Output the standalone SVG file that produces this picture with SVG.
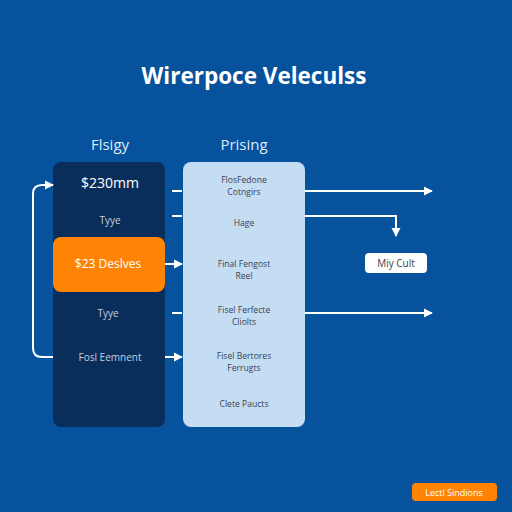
<svg xmlns="http://www.w3.org/2000/svg" width="512" height="512" viewBox="0 0 512 512">
<style>
.t{font-family:"Open Sans","Liberation Sans",sans-serif;}
.h{fill:#dfeaf6;font-size:15px;}
.w{fill:#ffffff;}
.s{fill:#c3cfdf;font-size:10px;}
.d{fill:#3a4250;font-size:8.6px;}
.ln{stroke:#ffffff;stroke-width:2;fill:none;}
</style>
<defs>
<marker id="ah" markerWidth="10" markerHeight="10" refX="8" refY="5" orient="auto" markerUnits="userSpaceOnUse">
<path d="M0,0.5 L9,5 L0,9.5 Z" fill="#ffffff"/>
</marker>
</defs>
<rect width="512" height="512" fill="#06529d"/>
<text class="t w" x="254" y="84" font-size="22.5" font-weight="bold" text-anchor="middle">Wirerpoce Veleculss</text>
<text class="t h" x="110" y="150" text-anchor="middle">Flsigy</text>
<text class="t h" x="244" y="150" text-anchor="middle">Prising</text>

<g id="left-panel">
<rect x="53" y="162" width="112" height="265" rx="8" fill="#0a2e5c"/>
<text class="t w" x="110" y="188" font-size="14" text-anchor="middle">$230mm</text>
<text class="t s" x="110" y="224" text-anchor="middle">Tyye</text>
<text class="t s" x="108" y="317" text-anchor="middle">Tyye</text>
<text class="t s" x="110" y="361" text-anchor="middle">Fosl Eemnent</text>
</g>
<g id="orange-node">
<rect x="53" y="237" width="112" height="55" rx="8" fill="#ff8406"/>
<text class="t w" x="108" y="268" font-size="12" text-anchor="middle">$23 Deslves</text>
</g>
<g id="right-panel">
<rect x="183" y="162" width="122" height="265" rx="8" fill="#c5ddf3"/>
<text class="t d" x="244" y="183" text-anchor="middle">FlosFedone</text>
<text class="t d" x="244" y="195" text-anchor="middle">Cotngirs</text>
<text class="t d" x="244" y="226" text-anchor="middle">Hage</text>
<text class="t d" x="244" y="267" text-anchor="middle">Final Fengost</text>
<text class="t d" x="244" y="279" text-anchor="middle">Reel</text>
<text class="t d" x="244" y="313" text-anchor="middle">Fisel Ferfecte</text>
<text class="t d" x="244" y="325" text-anchor="middle">Cliolts</text>
<text class="t d" x="244" y="359" text-anchor="middle">Fisel Bertores</text>
<text class="t d" x="244" y="371" text-anchor="middle">Ferrugts</text>
<text class="t d" x="244" y="407" text-anchor="middle">Clete Paucts</text>
</g>
<g id="miy-cult">
<rect x="365" y="253" width="62" height="20" rx="4" fill="#ffffff"/>
<text class="t" x="396" y="267" font-size="10" fill="#3a4250" text-anchor="middle">Miy Cult</text>
</g>
<g id="button">
<rect x="412" y="483" width="85" height="18" rx="4" fill="#ff8406"/>
<text class="t w" x="454" y="495.5" font-size="9" text-anchor="middle">Lectl Sindions</text>
</g>
<g id="connectors">
<path class="ln" d="M53,357 H42 Q33,357 33,348 V194 Q33,185 42,185 H53" marker-end="url(#ah)"/>
<line class="ln" x1="172" y1="191" x2="182" y2="191"/>
<line class="ln" x1="172" y1="216" x2="182" y2="216"/>
<line class="ln" x1="165" y1="264" x2="182" y2="264" marker-end="url(#ah)"/>
<line class="ln" x1="172" y1="313" x2="182" y2="313"/>
<line class="ln" x1="165" y1="357" x2="182" y2="357" marker-end="url(#ah)"/>
<line class="ln" x1="305" y1="191" x2="432" y2="191" marker-end="url(#ah)"/>
<path class="ln" d="M305,216 H396 V236" marker-end="url(#ah)"/>
<line class="ln" x1="305" y1="313" x2="432" y2="313" marker-end="url(#ah)"/>
</g>
</svg>
